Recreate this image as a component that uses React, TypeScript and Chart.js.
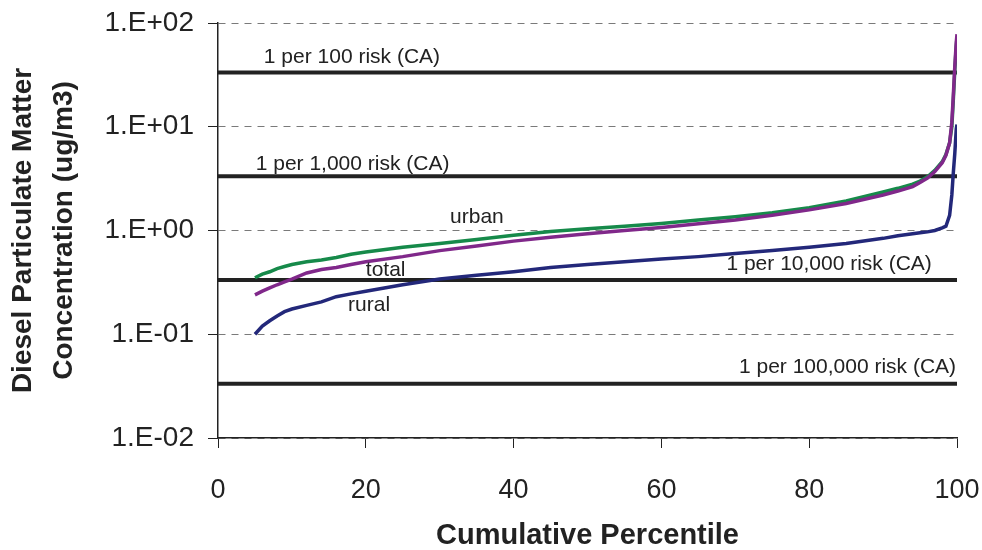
import React, { useEffect, useRef } from "react";
import { Chart, registerables } from "chart.js";

Chart.register(...registerables);

const percentiles = [5, 6, 7, 8, 9, 10, 12, 14, 16, 18, 20, 25, 30, 35, 40, 45, 50, 55, 60, 65, 70, 75, 80, 85, 90, 92, 94, 95, 96, 97, 98, 98.5, 99, 99.3, 99.5, 99.7, 99.9, 100];

const urban = [0.35, 0.38, 0.40, 0.43, 0.45, 0.47, 0.50, 0.52, 0.55, 0.59, 0.62, 0.69, 0.75, 0.82, 0.90, 0.98, 1.04, 1.10, 1.17, 1.26, 1.36, 1.48, 1.66, 1.93, 2.35, 2.55, 2.8, 3.0, 3.3, 3.8, 4.6, 5.4, 7.0, 10, 18, 35, 60, 72];

const total = [0.24, 0.26, 0.28, 0.30, 0.32, 0.34, 0.39, 0.42, 0.44, 0.47, 0.50, 0.56, 0.64, 0.71, 0.79, 0.86, 0.93, 1.0, 1.07, 1.16, 1.26, 1.40, 1.58, 1.82, 2.2, 2.4, 2.65, 2.9, 3.2, 3.7, 4.5, 5.3, 7.0, 11, 20, 38, 65, 78];

const rural = [0.10, 0.12, 0.135, 0.15, 0.165, 0.175, 0.19, 0.205, 0.23, 0.245, 0.26, 0.30, 0.34, 0.37, 0.40, 0.44, 0.47, 0.50, 0.53, 0.56, 0.60, 0.64, 0.69, 0.75, 0.84, 0.89, 0.93, 0.95, 0.97, 1.0, 1.06, 1.10, 1.4, 2.2, 3.6, 5.5, 9.5, 10.5];

const riskLevels = [33.3, 3.33, 0.333, 0.0333];
const riskLabels = ["1 per 100 risk (CA)", "1 per 1,000 risk (CA)", "1 per 10,000 risk (CA)", "1 per 100,000 risk (CA)"];

const yTicks = [0.01, 0.1, 1, 10, 100];
const xTicks = [0, 20, 40, 60, 80, 100];

// text annotations anchored in data coordinates (percentile, concentration)
const annotations = [
  { text: riskLabels[0], p: 6.2, v: 41.3 },
  { text: riskLabels[1], p: 5.1, v: 3.84 },
  { text: riskLabels[2], p: 68.8, v: 0.417 },
  { text: riskLabels[3], p: 70.5, v: 0.0424 },
  { text: "urban", p: 31.4, v: 1.18 },
  { text: "total", p: 20.0, v: 0.365 },
  { text: "rural", p: 17.6, v: 0.168 },
];

const FONT = "'Liberation Sans', Arial, sans-serif";
const INK = "#222222";

function fmtExp(v: number) {
  const e = Math.round(Math.log10(v));
  const sign = e < 0 ? "-" : "+";
  const abs = Math.abs(e).toString().padStart(2, "0");
  return "1.E" + sign + abs;
}

const labelPlugin = {
  id: "riskLabels",
  afterDatasetsDraw(chart: any) {
    const { ctx, scales } = chart;
    ctx.save();
    ctx.font = `21px ${FONT}`;
    ctx.fillStyle = INK;
    ctx.textAlign = "left";
    ctx.textBaseline = "alphabetic";
    for (const a of annotations) {
      const x = scales.x.getPixelForValue(a.p);
      const y = scales.y.getPixelForValue(a.v);
      ctx.fillText(a.text, x, y);
    }
    ctx.restore();
  },
};

export default function App() {
  const ref = useRef<HTMLCanvasElement | null>(null);

  useEffect(() => {
    document.body.style.margin = "0";
    const canvas = ref.current;
    if (!canvas) return;

    const curve = (vals: number[]) => percentiles.map((p, i) => ({ x: p, y: vals[i] }));

    const riskSets = riskLevels.map((lvl, i) => ({
      label: riskLabels[i],
      data: [{ x: 0, y: lvl }, { x: 100, y: lvl }],
      borderColor: INK,
      borderWidth: 4,
      pointRadius: 0,
      fill: false,
      order: 5,
    }));

    const chart = new Chart(canvas, {
      type: "line",
      data: {
        datasets: [
          { label: "total", data: curve(total), borderColor: "#80288a", borderWidth: 3.5, pointRadius: 0, tension: 0, order: 0 },
          { label: "urban", data: curve(urban), borderColor: "#168a4a", borderWidth: 3.5, pointRadius: 0, tension: 0, order: 1 },
          { label: "rural", data: curve(rural), borderColor: "#23287a", borderWidth: 3.5, pointRadius: 0, tension: 0, order: 2 },
          ...riskSets,
        ],
      },
      options: {
        responsive: false,
        animation: false,
        layout: { padding: { top: 23, right: 25, left: 0, bottom: 0 } },
        plugins: {
          legend: { display: false },
          tooltip: { enabled: false },
        },
        scales: {
          x: {
            type: "linear",
            min: 0,
            max: 100,
            afterBuildTicks: (s: any) => {
              s.ticks = xTicks.map((v) => ({ value: v }));
            },
            afterFit: (s: any) => {
              s.height = 112;
              s.paddingLeft = 0;
              s.paddingRight = 0;
            },
            ticks: {
              color: INK,
              font: { family: FONT, size: 27 },
              padding: 26,
              maxRotation: 0,
            },
            grid: {
              drawOnChartArea: false,
              drawTicks: true,
              tickLength: 10,
              tickColor: INK,
              tickWidth: 1,
            },
            border: { color: INK, width: 1.5 },
            title: {
              display: true,
              text: "Cumulative Percentile",
              color: INK,
              font: { family: FONT, size: 29, weight: "bold", lineHeight: 1 },
              padding: { top: 0, bottom: 0 },
            },
          },
          y: {
            type: "logarithmic",
            min: 0.01,
            max: 100,
            afterBuildTicks: (s: any) => {
              s.ticks = yTicks.map((v) => ({ value: v, major: true }));
            },
            afterFit: (s: any) => {
              s.width = 218;
              s.paddingTop = 0;
              s.paddingBottom = 0;
            },
            ticks: {
              color: INK,
              font: { family: FONT, size: 28 },
              padding: 14,
              callback: (v: any) => fmtExp(Number(v)),
            },
            grid: {
              drawOnChartArea: true,
              color: "#7a7a7a",
              lineWidth: 1,
              drawTicks: true,
              tickLength: 10,
              tickColor: INK,
              tickWidth: 1,
              tickBorderDash: [],
            },
            border: { color: INK, width: 1.5, dash: [7, 6] },
            title: {
              display: true,
              text: ["Diesel Particulate Matter", "Concentration (ug/m3)"],
              color: INK,
              font: { family: FONT, size: 28, weight: "bold", lineHeight: 1.45 },
              padding: { top: 3, bottom: 0 },
            },
          },
        },
      } as any,
      plugins: [labelPlugin],
    });

    return () => chart.destroy();
  }, []);

  return (
    <div style={{ width: 982, height: 550 }}>
      <canvas ref={ref} width={982} height={550} style={{ display: "block", width: 982, height: 550 }} />
    </div>
  );
}
